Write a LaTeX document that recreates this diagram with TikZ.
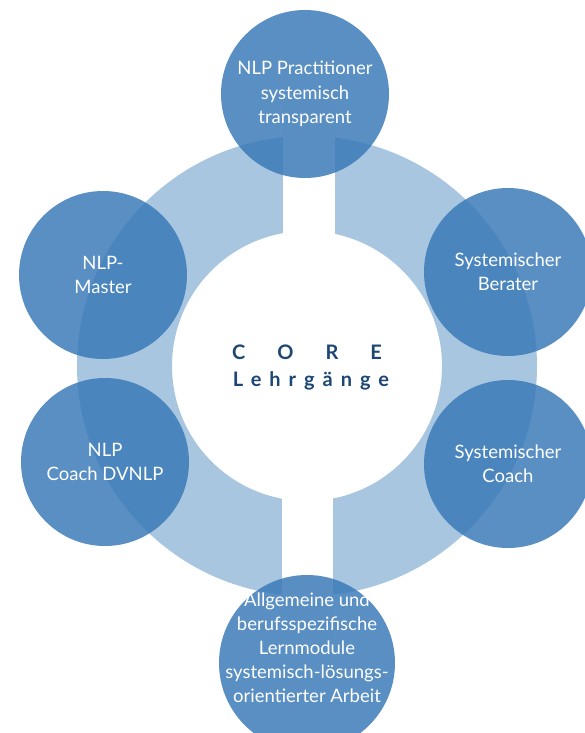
\documentclass[tikz,border=0pt]{standalone}
\usepackage{fontspec}
\setmainfont{Lato}
\newfontfamily\spacedfont{Lato}[LetterSpace=40]
\usetikzlibrary{backgrounds}
\definecolor{ringblue}{RGB}{168,198,224}
\definecolor{courseblue}{RGB}{56,120,184}
\definecolor{corenavy}{RGB}{28,70,115}
\pgfdeclarelayer{edgelayer}
\pgfdeclarelayer{nodelayer}
\pgfsetlayers{edgelayer,nodelayer,main}
\tikzstyle{none}=[inner sep=0pt]
\tikzstyle{course}=[circle,fill=courseblue,fill opacity=0.83,text opacity=1,text=white,minimum size=168pt,inner sep=0pt,align=center,font=\fontsize{18.5}{24.5}\selectfont]
\tikzstyle{coursetext}=[inner sep=0pt,text=white,align=center,font=\fontsize{18.5}{24}\selectfont]
\tikzstyle{centre}=[inner sep=0pt,text=corenavy,align=center,font=\fontsize{20}{27}\selectfont\bfseries]
\tikzstyle{ring}=[fill=ringblue,even odd rule]
\tikzstyle{gap}=[fill=white]

\begin{document}
\begin{tikzpicture}[x=1pt,y=-1pt]
	\useasboundingbox (0,0) rectangle (584,733);
	\begin{pgfonlayer}{nodelayer}
		\node [style=course] (practitioner) at (305, 94) {NLP Practitioner\\systemisch\\transparent};
		\node [style=course] (berater) at (508, 272) {Systemischer\\Berater};
		\node [style=course] (coach) at (508, 464) {Systemischer\\Coach};
		\node [style=course] (master) at (103, 275) {NLP-\\Master};
		\node [style=course] (dvnlp) at (105, 462) {NLP\\Coach DVNLP};
		\node [style=course, minimum size=176pt, label={[style=coursetext, yshift=15pt]center:Allgemeine und\\berufsspezifische\\Lernmodule\\systemisch-l\"osungs-\\orientierter Arbeit}] (module) at (307, 663) {};
		\node [style=centre] (core) at (307, 367) {C\hskip1.6em O\hskip1.6em R\hskip1.6em E\\{\spacedfont Lehrg\"ange\kern-0.4em}};
	\end{pgfonlayer}
	\begin{pgfonlayer}{edgelayer}
		\fill [style=ring] (307, 366) circle (230) (307, 366) circle (135);
		\fill [style=gap] (283, 100) rectangle (335, 240);
		\fill [style=gap] (282, 490) rectangle (333, 640);
	\end{pgfonlayer}
\end{tikzpicture}
\end{document}
